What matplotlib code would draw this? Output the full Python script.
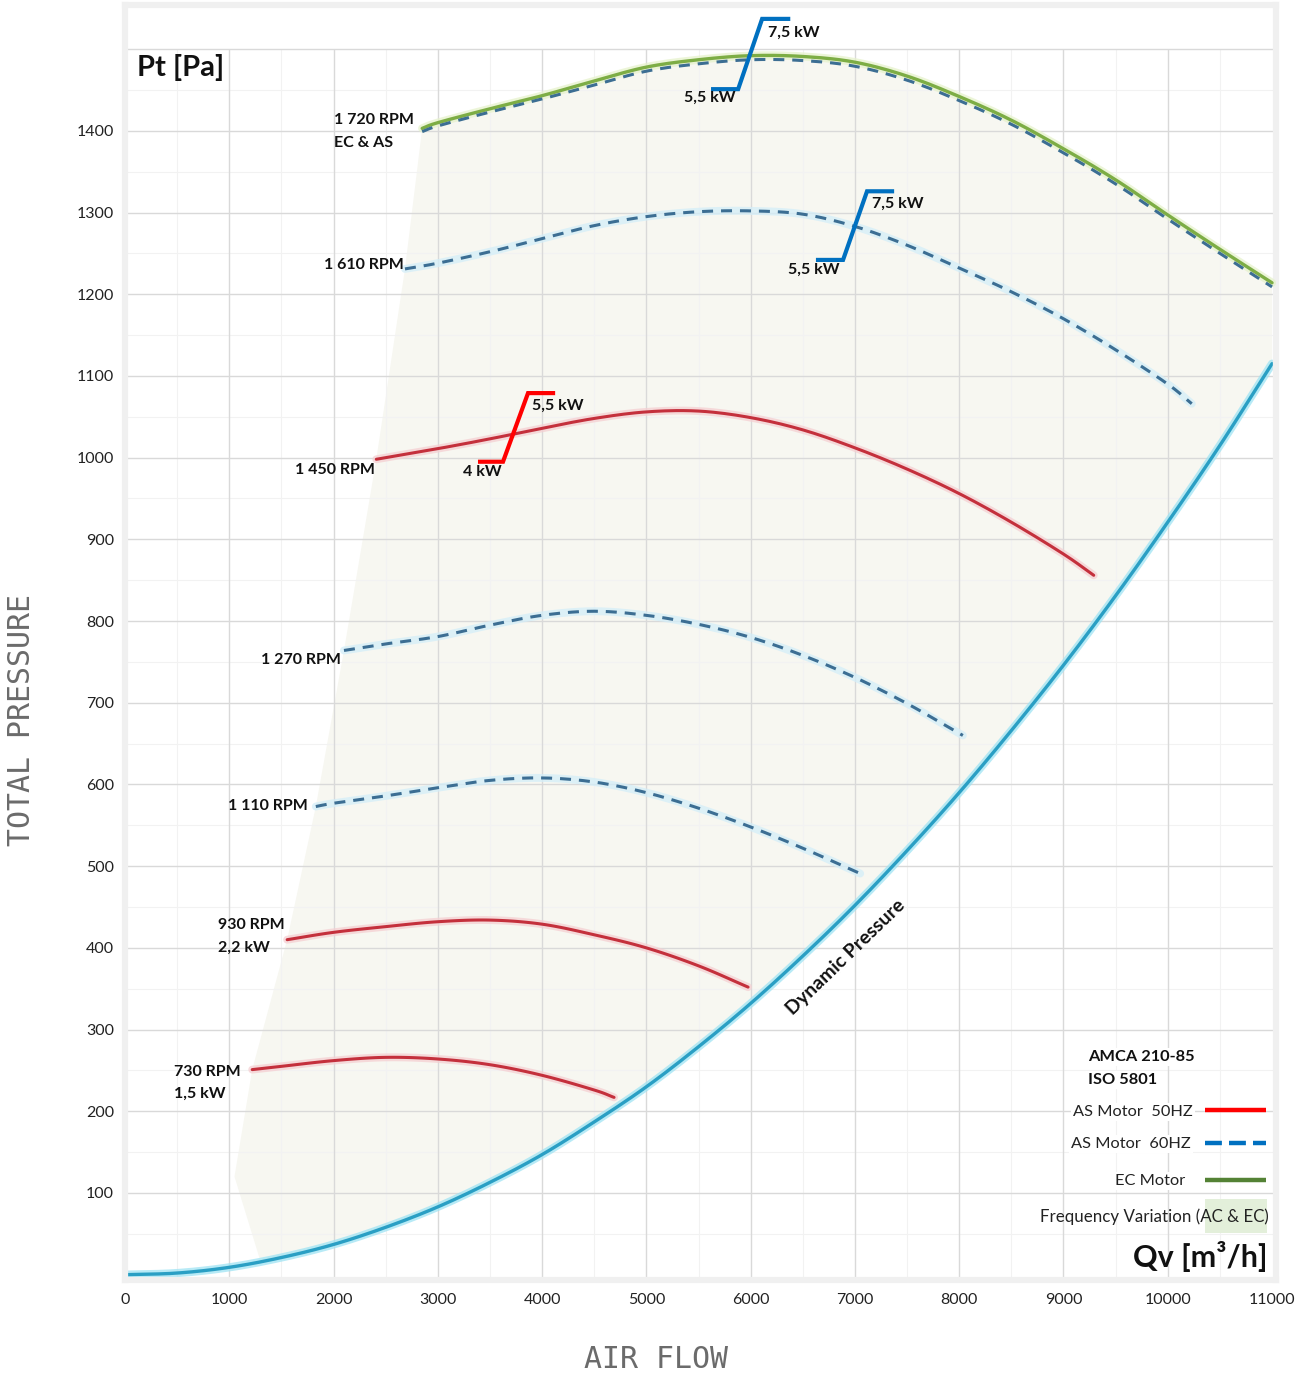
import matplotlib
matplotlib.use('Agg')
import matplotlib.pyplot as plt
from matplotlib.patches import Rectangle, Polygon
import numpy as np

plt.rcParams['font.family'] = ['Lato', 'DejaVu Sans']

# ---------------- data ----------------
x_ticks = [0, 1000, 2000, 3000, 4000, 5000, 6000, 7000, 8000, 9000, 10000, 11000]
y_ticks = [100, 200, 300, 400, 500, 600, 700, 800, 900, 1000, 1100, 1200, 1300, 1400]

q_1720 = [2850, 3000, 3500, 4000, 4500, 5000, 5500, 6000, 6500, 7000, 7500, 8000, 8500, 9000, 9500, 10000, 10500, 11000]
p_1720_ec = [1403, 1410, 1427, 1443, 1461, 1478, 1487, 1492, 1491, 1484, 1467, 1442, 1413, 1378, 1340, 1297, 1255, 1214]
p_1720_as = [1399, 1406, 1423, 1439, 1456, 1473, 1482, 1487, 1486, 1479, 1462, 1437, 1408, 1373, 1335, 1292, 1250, 1209]

q_1610 = [2685, 3000, 3500, 4000, 4500, 5000, 5500, 6000, 6500, 7000, 7500, 8000, 8500, 9000, 9500, 10000, 10230]
p_1610 = [1231, 1238, 1252, 1268, 1284, 1295, 1301, 1302, 1298, 1283, 1260, 1232, 1203, 1170, 1132, 1090, 1066]

q_1450 = [2410, 3000, 3500, 4000, 4500, 5000, 5500, 6000, 6500, 7000, 7500, 8000, 8500, 9000, 9290]
p_1450 = [998, 1011, 1023, 1036, 1048, 1056, 1057, 1049, 1034, 1012, 986, 956, 921, 882, 856]

q_1270 = [2100, 2500, 3000, 3500, 4000, 4500, 5000, 5500, 6000, 6500, 7000, 7500, 8035]
p_1270 = [764, 772, 781, 795, 807, 812, 807, 796, 780, 758, 731, 699, 660]

q_1110 = [1830, 2000, 2500, 3000, 3500, 4000, 4500, 5000, 5500, 6000, 6500, 7050]
p_1110 = [573, 577, 586, 596, 605, 608, 603, 590, 571, 548, 522, 491]

q_930 = [1555, 2000, 2500, 3000, 3500, 4000, 4500, 5000, 5500, 5975]
p_930 = [410, 419, 426, 432, 434, 429, 416, 400, 378, 352]

q_730 = [1220, 1500, 2000, 2500, 3000, 3500, 4000, 4500, 4690]
p_730 = [251, 255, 262, 266, 264, 257, 244, 226, 217]

q_dyn = [0, 500, 1000, 1500, 2000, 2500, 3000, 3500, 4000, 4500, 5000, 5500, 6000, 6500, 7000, 7500, 8000, 8500, 9000, 9500, 10000, 10500, 11000]
p_dyn = [0, 2, 9, 21, 37, 58, 83, 113, 147, 187, 230, 279, 332, 390, 452, 519, 590, 666, 746, 831, 921, 1015, 1115]

# motor power change markers
step_red_q = [3405, 3625, 3865, 4105]
step_red_p = [995, 995, 1079, 1079]
step_blue1_q = [5640, 5880, 6110, 6360]
step_blue1_p = [1451, 1451, 1537, 1537]
step_blue2_q = [6646, 6886, 7116, 7356]
step_blue2_p = [1242, 1242, 1326, 1326]

# frequency-variation zone left boundary
zone_left_q = [2850, 2685, 2410, 2100, 1830, 1555, 1220, 1050, 1300]
zone_left_p = [1403, 1231, 998, 764, 573, 410, 251, 120, 16]


def smooth(q, p, n=14):
    """Catmull-Rom rendering path through the read points (like a smoothed line)."""
    x = np.asarray(q, float)
    y = np.asarray(p, float)
    xs, ys = [], []
    m = len(x)
    for i in range(m - 1):
        x0 = x[i - 1] if i > 0 else 2 * x[i] - x[i + 1]
        y0 = y[i - 1] if i > 0 else 2 * y[i] - y[i + 1]
        x3 = x[i + 2] if i + 2 < m else 2 * x[i + 1] - x[i]
        y3 = y[i + 2] if i + 2 < m else 2 * y[i + 1] - y[i]
        t = np.linspace(0, 1, n, endpoint=False)
        t2, t3 = t * t, t * t * t
        for a0, a1, a2, a3, out in ((x0, x[i], x[i + 1], x3, xs), (y0, y[i], y[i + 1], y3, ys)):
            out.extend(0.5 * (2 * a1 + (-a0 + a2) * t + (2 * a0 - 5 * a1 + 4 * a2 - a3) * t2
                              + (-a0 + 3 * a1 - 3 * a2 + a3) * t3))
    xs.append(x[-1])
    ys.append(y[-1])
    return np.array(xs), np.array(ys)


# ---------------- figure ----------------
W, H = 1306, 1374
fig = plt.figure(figsize=(W / 100, H / 100), dpi=100)
fig.patch.set_facecolor('white')
ax = fig.add_axes([125 / W, (H - 1280) / H, (1276 - 125) / W, (1280 - 5) / H])
ax.set_xlim(0, 11038)
ax.set_ylim(-6.5, 1554)
ax.set_facecolor('white')
for s in ax.spines.values():
    s.set_color('#f0f0f0')
    s.set_linewidth(4.5)

# grid
minor_x = [v + 500 for v in x_ticks[:-1]]
minor_y = [v + 50 for v in [0] + y_ticks]
ax.vlines(minor_x, -6, 1500, color='#f2f2f2', lw=0.8, zorder=0.3)
ax.hlines(minor_y, 0, 11038, color='#f2f2f2', lw=0.8, zorder=0.3)
ax.vlines(x_ticks[1:-1], -6, 1500, color='#d9d9d9', lw=1.0, zorder=0.4)
ax.hlines(y_ticks + [1500], 0, 11038, color='#d9d9d9', lw=1.0, zorder=0.4)

# frequency variation zone (very faint)
sx, sy = smooth(q_1720, p_1720_ec)
zone_pts = list(zip(sx, sy)) + [(q, p) for q, p in zip(q_dyn[::-1], p_dyn[::-1]) if q >= 1300] + \
    list(zip(zone_left_q[::-1], zone_left_p[::-1]))
ax.add_patch(Polygon(zone_pts, closed=True, facecolor='#f7f7f1', edgecolor='none', zorder=0.2))

ax.set_xticks(x_ticks)
ax.set_xticklabels([str(v) for v in x_ticks])
ax.set_yticks(y_ticks)
ax.set_yticklabels([str(v) for v in y_ticks])
ax.tick_params(length=0, labelsize=11.5, colors='#222222')
ax.tick_params(axis='x', pad=9)
ax.tick_params(axis='y', pad=8)


def curve(q, p, color, halo, dashed=False, lw=2.2, z=3):
    xs, ys = smooth(q, p)
    ax.plot(xs, ys, color=halo, lw=lw + 3.5, alpha=0.75, solid_capstyle='round', zorder=z)
    if dashed:
        ax.plot(xs, ys, color=color, lw=lw, dashes=(3.6, 2.6), zorder=z + 0.1)
    else:
        ax.plot(xs, ys, color=color, lw=lw, solid_capstyle='round', zorder=z + 0.1)


RED = '#c4303c'
RED_H = '#f5cfd2'
BLUE = '#3c6e93'
BLUE_H = '#d3eef9'
GREEN = '#7dad45'
GREEN_H = '#e6f2cc'

curve(q_dyn, p_dyn, '#2a9fc4', '#9fe3f3', lw=2.4, z=2)
curve(q_730, p_730, RED, RED_H)
curve(q_930, p_930, RED, RED_H)
curve(q_1110, p_1110, BLUE, BLUE_H, dashed=True)
curve(q_1270, p_1270, BLUE, BLUE_H, dashed=True)
curve(q_1450, p_1450, RED, RED_H)
curve(q_1610, p_1610, BLUE, BLUE_H, dashed=True)
curve(q_1720, p_1720_ec, GREEN, GREEN_H, lw=2.4, z=3)
ax_x, ax_y = smooth(q_1720, p_1720_as)
ax.plot(ax_x, ax_y, color=BLUE, lw=2.2, dashes=(3.6, 2.6), zorder=3.5)

# power step markers
ax.plot(step_red_q, step_red_p, color='#ff0000', lw=3.0, zorder=5, solid_joinstyle='miter')
ax.plot(step_blue1_q, step_blue1_p, color='#0070c0', lw=3.0, zorder=5, solid_joinstyle='miter')
ax.plot(step_blue2_q, step_blue2_p, color='#0070c0', lw=3.0, zorder=5, solid_joinstyle='miter')

lab = dict(fontsize=11.5, fontweight='bold', color='#111111', zorder=6)
ax.text(2004, 1413, '1 720 RPM', ha='left', va='center', **lab)
ax.text(2004, 1385, 'EC & AS', ha='left', va='center', **lab)
ax.text(2670, 1236, '1 610 RPM', ha='right', va='center', **lab)
ax.text(2400, 985, '1 450 RPM', ha='right', va='center', **lab)
ax.text(2075, 752, '1 270 RPM', ha='right', va='center', **lab)
ax.text(1750, 574, '1 110 RPM', ha='right', va='center', **lab)
ax.text(892, 428, '930 RPM', ha='left', va='center', **lab)
ax.text(892, 400, '2,2 kW', ha='left', va='center', **lab)
ax.text(470, 248, '730 RPM', ha='left', va='center', **lab)
ax.text(470, 221, '1,5 kW', ha='left', va='center', **lab)
ax.text(3242, 983, '4 kW', ha='left', va='center', **lab)
ax.text(3903, 1064, '5,5 kW', ha='left', va='center', **lab)
ax.text(5361, 1440, '5,5 kW', ha='left', va='center', **lab)
ax.text(6167, 1520, '7,5 kW', ha='left', va='center', **lab)
ax.text(6359, 1230, '5,5 kW', ha='left', va='center', **lab)
ax.text(7164, 1311, '7,5 kW', ha='left', va='center', **lab)
ax.text(6915, 388, 'Dynamic Pressure', ha='center', va='center', rotation=44,
        rotation_mode='anchor', fontsize=14, fontweight='bold', color='#111111', zorder=6)

ax.text(118, 1478, 'Pt [Pa]', ha='left', va='center', fontsize=21, fontweight='bold', color='#111111', zorder=6)
ax.text(10955, 22, 'Qv [m³/h]', ha='right', va='center', fontsize=22, fontweight='bold', color='#111111', zorder=6)

# legend block
lg = dict(fontsize=11.8, color='#222222', zorder=7,
          bbox=dict(facecolor='white', edgecolor='none', pad=1.5))
ax.text(9236, 266, 'AMCA 210-85', ha='left', va='center', fontsize=11.8, fontweight='bold',
        color='#111111', zorder=7, bbox=dict(facecolor='white', edgecolor='none', pad=1.5))
ax.text(9236, 238, 'ISO 5801', ha='left', va='center', fontsize=11.8, fontweight='bold',
        color='#111111', zorder=7, bbox=dict(facecolor='white', edgecolor='none', pad=1.5))
ax.text(10243, 199, 'AS Motor  50HZ', ha='right', va='center', **lg)
ax.text(10224, 160, 'AS Motor  60HZ', ha='right', va='center', **lg)
ax.text(10166, 115, 'EC Motor', ha='right', va='center', **lg)
ax.add_patch(Rectangle((10358, 51), 594, 42, facecolor='#e3efda', edgecolor='none', zorder=6.5))
ax.text(10972, 71, 'Frequency Variation (AC & EC)', ha='right', va='center', fontsize=12.2,
        color='#222222', zorder=7)
ax.plot([10358, 10943], [201, 201], color='#ff0000', lw=3.2, zorder=7, solid_capstyle='butt')
ax.plot([10358, 10943], [161, 161], color='#0070c0', lw=3.2, dashes=(3.8, 1.6), zorder=7)
ax.plot([10358, 10943], [116, 116], color='#548235', lw=3.2, zorder=7, solid_capstyle='butt')

# axis titles
fig.text(22 / W, 1 - 720 / H, 'TOTAL PRESSURE', rotation=90, ha='center', va='center',
         fontsize=21.5, color='#6b6b6b', family='DejaVu Sans Mono')
fig.text(656 / W, 1 - 1359 / H, 'AIR FLOW', ha='center', va='center',
         fontsize=21.5, color='#6b6b6b', family='DejaVu Sans Mono')

fig.savefig('out.png', dpi=100, facecolor='white')
